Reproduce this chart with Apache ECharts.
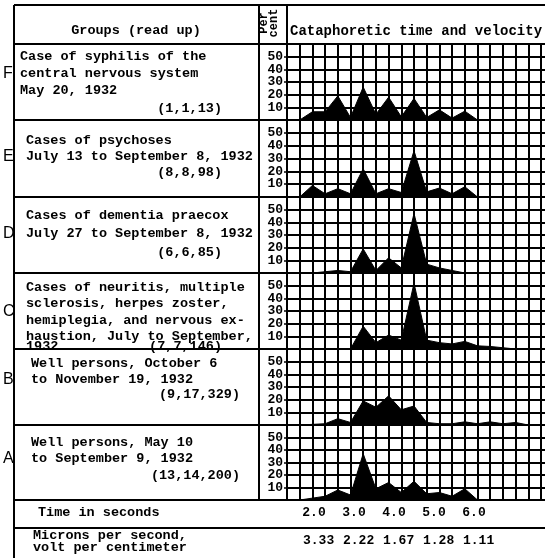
<!DOCTYPE html>
<html><head><meta charset="utf-8">
<script src="https://cdn.jsdelivr.net/npm/echarts@6/dist/echarts.min.js"></script>
<style>html,body{margin:0;padding:0;background:#fff}#c{width:545px;height:558px}</style>
</head><body><div id="c"></div>
<script>
// ---------------- DATA ----------------
const groupLetters = ['F', 'E', 'D', 'C', 'B', 'A'];
const textF = ['Case of syphilis of the', 'central nervous system', 'May 20, 1932', '(1,1,13)'];
const textE = ['Cases of psychoses', 'July 13 to September 8, 1932', '(8,8,98)'];
const textD = ['Cases of dementia praecox', 'July 27 to September 8, 1932', '(6,6,85)'];
const textC = ['Cases of neuritis, multiple', 'sclerosis, herpes zoster,', 'hemiplegia, and nervous ex-', 'haustion, July to September,', '1932', '(7,7,146)'];
const textB = ['Well persons, October 6', 'to November 19, 1932', '(9,17,329)'];
const textA = ['Well persons, May 10', 'to September 9, 1932', '(13,14,200)'];

// per cent values at successive grid columns (first column index given by start*)
const startF = 1, valuesF = [0, 6.5, 6.5, 19, 2, 26, 4.5, 18, 2.5, 17, 2, 8, 1.5, 7, 0];
const startE = 1, valuesE = [0, 9, 2.5, 6.5, 2.5, 22, 2.5, 6.5, 3.5, 36, 4, 7, 2.5, 8, 0];
const startD = 2, valuesD = [0, 1, 2, 1, 19, 2, 12, 4, 47, 7, 4, 2, 0];
const startC = 5, valuesC = [0, 18, 5, 11, 7, 52, 7, 5, 4, 6, 2.5, 2, 1, 0];
const startB = 1, valuesB = [0, 0.5, 1, 5, 2, 19, 14, 23, 12, 15, 2, 1, 1, 2.5, 1, 2.5, 1, 2, 0];
const startA = 1, valuesA = [0, 1.5, 3, 8, 4, 37, 9, 14, 6, 15, 5, 6, 3, 9, 0];

const perCentTicks = [10, 20, 30, 40, 50];
const timeTicks = [2, 3, 4, 5, 6];
const micronLabels = ['3.33', '2.22', '1.67', '1.28', '1.11'];

const headerGroups = 'Groups (read up)';
const headerPer = ['Per', 'cent'];
const headerRight = 'Cataphoretic time and velocity';
const rowTime = 'Time in seconds';
const rowMicrons = ['Microns per second,', 'volt per centimeter'];

// ---------------- LAYOUT ----------------
const MONO = '"Liberation Mono", "DejaVu Sans Mono", monospace';
const SANS = '"Liberation Sans", "DejaVu Sans", sans-serif';
const PLOT_LEFT = 287, CELL = 12.7, PLOT_W = 258;
const panelTops = [44, 120, 197, 273, 349, 425];
const panelBottoms = [120, 197, 273, 349, 425, 500];
const panelValues = [valuesF, valuesE, valuesD, valuesC, valuesB, valuesA];
const panelStarts = [startF, startE, startD, startC, startB, startA];
const panelTexts = [textF, textE, textD, textC, textB, textA];
const textLayout = [
  [[20, 57, 'left'], [20, 74, 'left'], [20, 91, 'left'], [222, 109, 'right']],
  [[26, 141, 'left'], [26, 157, 'left'], [222, 173, 'right']],
  [[26, 216, 'left'], [26, 234, 'left'], [222, 253, 'right']],
  [[26, 288, 'left'], [26, 304, 'left'], [26, 321, 'left'], [26, 337, 'left'], [26, 347, 'left'], [222, 347, 'right']],
  [[31, 364, 'left'], [31, 380, 'left'], [240, 395, 'right']],
  [[31, 443, 'left'], [31, 459, 'left'], [240, 476, 'right']]
];
const letterY = [74, 157, 234, 312, 380, 459];

const grids = [], xAxes = [], yAxes = [], series = [];
panelValues.forEach((vals, i) => {
  grids.push({left: PLOT_LEFT, top: panelTops[i], width: PLOT_W, height: panelBottoms[i] - panelTops[i]});
  xAxes.push({
    gridIndex: i, type: 'value', min: 0, max: PLOT_W / CELL, interval: 1,
    axisLine: {show: false}, axisTick: {show: false}, axisLabel: {show: false},
    splitLine: {show: true, showMaxLine: false, lineStyle: {color: '#000', width: 2}}
  });
  yAxes.push({
    gridIndex: i, type: 'value', min: 0, max: 60, interval: 10,
    axisLine: {show: false},
    axisTick: {show: true, length: 3, lineStyle: {color: '#000', width: 1.5}},
    axisLabel: {
      show: true, margin: 4, color: '#000', fontFamily: MONO, fontWeight: 'bold', fontSize: 13,
      formatter: v => perCentTicks.indexOf(v) >= 0 ? String(v) : ''
    },
    splitLine: {show: true, lineStyle: {color: '#000', width: 2}}
  });
  series.push({
    type: 'line', xAxisIndex: i, yAxisIndex: i, symbol: 'none', smooth: false,
    lineStyle: {color: '#000', width: 1}, areaStyle: {color: '#000', opacity: 1},
    data: vals.map((v, j) => [panelStarts[i] + j, v]), z: 3, silent: true
  });
});

// time row axis (seconds) and microns row axis
const SEC_PX = 40, T1_PX = 274;
grids.push({left: T1_PX, top: 500, width: SEC_PX * 6, height: 13});
xAxes.push({
  gridIndex: 6, type: 'value', min: 1, max: 7, interval: 1,
  axisLine: {show: false}, axisTick: {show: false}, splitLine: {show: false},
  axisLabel: {show: true, margin: 0, verticalAlign: 'middle', color: '#000', fontFamily: MONO, fontWeight: 'bold', fontSize: 13,
    formatter: v => timeTicks.indexOf(v) >= 0 ? v.toFixed(1) : ''}
});
yAxes.push({gridIndex: 6, type: 'value', show: false, min: 0, max: 1});
grids.push({left: T1_PX - 11, top: 528, width: SEC_PX * 6, height: 13});
xAxes.push({
  gridIndex: 7, type: 'value', min: 1, max: 7, interval: 1,
  axisLine: {show: false}, axisTick: {show: false}, splitLine: {show: false},
  axisLabel: {show: true, margin: 0, align: 'left', verticalAlign: 'middle', color: '#000', fontFamily: MONO, fontWeight: 'bold', fontSize: 13,
    formatter: v => { const k = timeTicks.indexOf(v); return k >= 0 ? micronLabels[k] : ''; }}
});
yAxes.push({gridIndex: 7, type: 'value', show: false, min: 0, max: 1});

// ---------------- TABLE GRAPHICS ----------------
const g = [];
const line = (x1, y1, x2, y2, w) => g.push({type: 'line', z: 10, silent: true, shape: {x1, y1, x2, y2}, style: {stroke: '#000', lineWidth: w || 2}});
const text = (s, x, y, align, font, extra) => g.push(Object.assign({type: 'text', z: 11, silent: true, x, y,
  style: {text: s, x: 0, y: 0, align: align || 'left', verticalAlign: 'middle', fill: '#000', font: font}}, extra || {}));

const FONT = 'bold 13.5px ' + MONO;
line(14, 5, 545, 5);
[44].concat(panelBottoms, [528]).forEach(y => line(14, y, 545, y));
line(14, 5, 14, 558);
line(259, 5, 259, 500);
line(PLOT_LEFT, 5, PLOT_LEFT, 500);

text(headerGroups, 136, 31, 'center', FONT);
text(headerPer[0], 264, 23, 'center', 'bold 12px ' + MONO, {rotation: Math.PI / 2});
text(headerPer[1], 274, 23, 'center', 'bold 12px ' + MONO, {rotation: Math.PI / 2});
text(headerRight, 290, 31, 'left', 'bold 14px ' + MONO);

panelTexts.forEach((lines, i) => {
  lines.forEach((s, j) => { const L = textLayout[i][j]; text(s, L[0], L[1], L[2], FONT); });
  text(groupLetters[i], 3, letterY[i], 'left', '16px ' + SANS);
});
text(rowTime, 38, 513, 'left', FONT);
text(rowMicrons[0], 33, 536, 'left', FONT);
text(rowMicrons[1], 33, 548, 'left', FONT);

const chart = echarts.init(document.getElementById('c'), null, {renderer: 'canvas'});
chart.setOption({
  backgroundColor: '#fff', animation: false,
  grid: grids, xAxis: xAxes, yAxis: yAxes, series: series, graphic: g
});
</script></body></html>
